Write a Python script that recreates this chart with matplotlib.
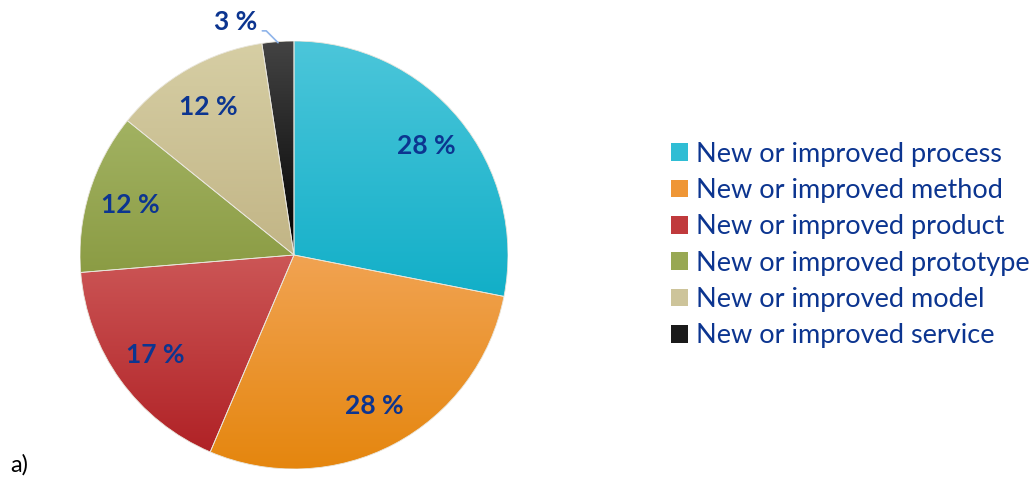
import numpy as np
import matplotlib
matplotlib.use("Agg")
import matplotlib.pyplot as plt
from matplotlib.colors import LinearSegmentedColormap
from matplotlib.patches import Patch, Wedge

# data (shares in %, start at 12 o'clock, clockwise)
categories = ["New or improved process", "New or improved method", "New or improved product",
              "New or improved prototype", "New or improved model", "New or improved service"]
shares = [28.1, 28.3, 17.3, 12.1, 11.8, 2.4]
pct_labels = ["28 %", "28 %", "17 %", "12 %", "12 %", "3 %"]

# (top colour, bottom colour) for the vertical gradient of each slice
grad_colors = [("#4cc6da", "#12afc8"), ("#f1a352", "#e5860e"), ("#cc5656", "#b02226"),
               ("#a2b262", "#8b9c44"), ("#d6cea4", "#c2b586"), ("#444444", "#000000")]
legend_colors = ["#2fbdd4", "#ef9635", "#c03a3c", "#98a853", "#cdc49a", "#1a1a1a"]

TXT = "#0c3590"
plt.rcParams["font.family"] = ["Lato", "DejaVu Sans"]

fig = plt.figure(figsize=(10.32, 4.8), dpi=100)
cx, cy, r = 294, 480 - 255, 214
ax = fig.add_axes([(cx - r) / 1032, (cy - r) / 480, 2 * r / 1032, 2 * r / 480])

wedges, _ = ax.pie(shares, startangle=90, counterclock=False, radius=1,
                   wedgeprops=dict(linewidth=0))
for w, (c_top, c_bot) in zip(wedges, grad_colors):
    w.set_facecolor("none")
    ext = w.get_path().get_extents(w.get_patch_transform())
    cmap = LinearSegmentedColormap.from_list("g", [c_bot, c_top])
    grad = np.linspace(0, 1, 256).reshape(-1, 1)
    im = ax.imshow(grad, cmap=cmap, origin="lower", aspect="auto",
                   extent=[ext.x0, ext.x1, ext.y0, ext.y1], zorder=1)
    im.set_clip_path(w)
    ax.add_patch(Wedge(w.center, w.r, w.theta1, w.theta2, facecolor="none",
                       edgecolor="#e9e6dc", linewidth=0.6, zorder=2))
ax.set_xlim(-1, 1)
ax.set_ylim(-1, 1)
ax.axis("off")

# percentage labels
for i, (w, lab) in enumerate(zip(wedges, pct_labels)):
    ang = np.deg2rad((w.theta1 + w.theta2) / 2)
    if i == len(wedges) - 1:
        ax.annotate(lab, xy=(0.99 * np.cos(ang), 0.995 * np.sin(ang)),
                    xytext=(-0.275, 1.09), ha="center", va="center",
                    fontsize=19, fontweight="bold", color=TXT, zorder=3,
                    annotation_clip=False,
                    arrowprops=dict(arrowstyle="-", color="#8fb4ea", lw=1.2,
                                    relpos=(1, 0.12),
                                    connectionstyle="angle,angleA=0,angleB=135,rad=0",
                                    shrinkA=2, shrinkB=0))
    else:
        ax.text(0.8 * np.cos(ang), 0.8 * np.sin(ang), lab, ha="center", va="center",
                fontsize=19, fontweight="bold", color=TXT, zorder=3)

handles = [Patch(facecolor=c, edgecolor="none") for c in legend_colors]
fig.legend(handles, categories, loc="center left", bbox_to_anchor=(0.650, 0.4896),
           frameon=False, fontsize=19.5, labelcolor=TXT, handlelength=0.63,
           handleheight=0.63, handletextpad=0.3, labelspacing=0.42, borderpad=0,
           borderaxespad=0)

fig.text(10 / 1032, 1 - 465 / 480, "a)", fontsize=17, va="center", ha="left", color="black")

fig.savefig("out.png", dpi=100)
